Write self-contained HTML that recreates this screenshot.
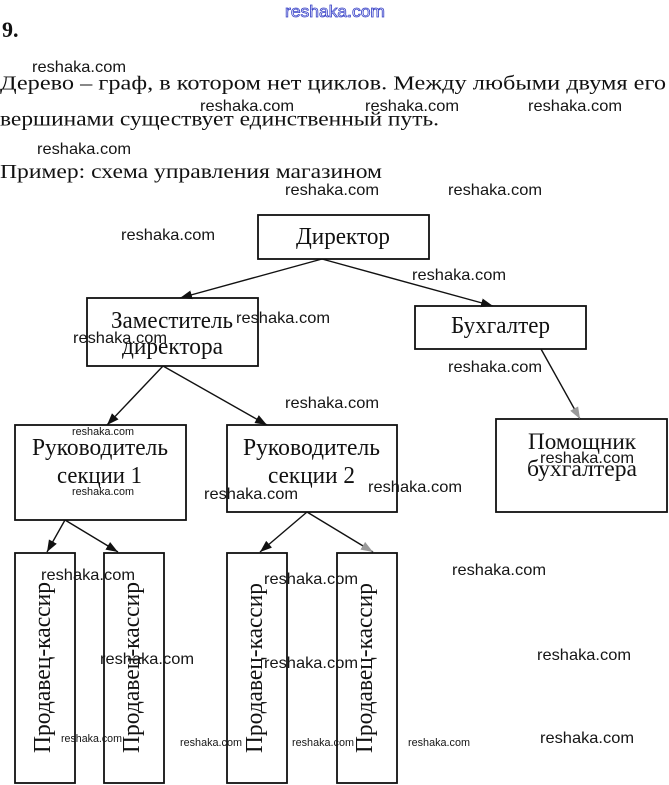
<!DOCTYPE html>
<html>
<head>
<meta charset="utf-8">
<style>
  html, body { margin: 0; padding: 0; background: #fff; }
  body { width: 669px; height: 785px; overflow: hidden; }
  svg { display: block; }
  .serif { font-family: "Liberation Serif", "Noto Serif CJK SC", serif; fill: #111; }
  .wm { font-family: "Liberation Sans", "DejaVu Sans", sans-serif; fill: #151515; }
</style>
</head>
<body>
<svg width="669" height="785" viewBox="0 0 669 785" xmlns="http://www.w3.org/2000/svg">
  <defs>
    <marker id="ah" markerUnits="userSpaceOnUse" markerWidth="13" markerHeight="10" refX="12" refY="5" orient="auto">
      <path d="M0,0.5 L12,5 L0,9.5 z" fill="#111"/>
    </marker>
    <marker id="ahg" markerUnits="userSpaceOnUse" markerWidth="13" markerHeight="10" refX="12" refY="5" orient="auto">
      <path d="M0,0.5 L12,5 L0,9.5 z" fill="#9a9a9a"/>
    </marker>
  </defs>

  <!-- top blue watermark -->
  <text x="285" y="17" font-size="16.5" textLength="100" lengthAdjust="spacingAndGlyphs"
        font-family="Liberation Sans, DejaVu Sans, sans-serif" fill="#ffffff" stroke="#3a44c8" stroke-width="0.8">reshaka.com</text>

  <!-- heading & paragraph -->
  <text class="serif" x="2" y="37" font-size="22" font-weight="bold">9.</text>
  <text class="serif" x="0" y="89.5" font-size="20.5" textLength="666" lengthAdjust="spacingAndGlyphs">Дерево – граф, в котором нет циклов. Между любыми двумя его</text>
  <text class="serif" x="0" y="125.5" font-size="20.5" textLength="439" lengthAdjust="spacingAndGlyphs">вершинами существует единственный путь.</text>
  <text class="serif" x="0" y="178" font-size="20.5" textLength="382" lengthAdjust="spacingAndGlyphs">Пример: схема управления магазином</text>

  <!-- boxes -->
  <g fill="none" stroke="#111" stroke-width="1.8">
    <rect x="258" y="215" width="171" height="44"/>
    <rect x="87" y="298" width="171" height="68"/>
    <rect x="415" y="306" width="171" height="43"/>
    <rect x="15" y="425" width="171" height="95"/>
    <rect x="227" y="425" width="170" height="87"/>
    <rect x="496" y="419" width="171" height="93"/>
    <rect x="15" y="553" width="60" height="230"/>
    <rect x="104" y="553" width="60" height="230"/>
    <rect x="227" y="553" width="60" height="230"/>
    <rect x="337" y="553" width="60" height="230"/>
  </g>

  <!-- arrows -->
  <g stroke="#111" stroke-width="1.4" fill="none">
    <line x1="322" y1="259" x2="180" y2="298" marker-end="url(#ah)"/>
    <line x1="322" y1="259" x2="493" y2="306" marker-end="url(#ah)"/>
    <line x1="163" y1="366" x2="107" y2="425" marker-end="url(#ah)"/>
    <line x1="163" y1="366" x2="267" y2="425" marker-end="url(#ah)"/>
    <line x1="541" y1="349" x2="580" y2="419" marker-end="url(#ahg)"/>
    <line x1="65" y1="520" x2="47" y2="552" marker-end="url(#ah)"/>
    <line x1="65" y1="520" x2="118" y2="552" marker-end="url(#ah)"/>
    <line x1="307" y1="512" x2="260" y2="552" marker-end="url(#ah)"/>
    <line x1="307" y1="512" x2="373" y2="552" marker-end="url(#ahg)"/>
  </g>

  <!-- box labels -->
  <text class="serif" x="296" y="244" font-size="24" textLength="94" lengthAdjust="spacingAndGlyphs">Директор</text>
  <text class="serif" x="111" y="328" font-size="24" textLength="122" lengthAdjust="spacingAndGlyphs">Заместитель</text>
  <text class="serif" x="122" y="354" font-size="24" textLength="101" lengthAdjust="spacingAndGlyphs">директора</text>
  <text class="serif" x="451" y="333" font-size="24" textLength="99" lengthAdjust="spacingAndGlyphs">Бухгалтер</text>
  <text class="serif" x="32" y="455" font-size="24" textLength="136" lengthAdjust="spacingAndGlyphs">Руководитель</text>
  <text class="serif" x="57" y="483" font-size="24" textLength="85" lengthAdjust="spacingAndGlyphs">секции 1</text>
  <text class="serif" x="243" y="455" font-size="24" textLength="137" lengthAdjust="spacingAndGlyphs">Руководитель</text>
  <text class="serif" x="268" y="483" font-size="24" textLength="87" lengthAdjust="spacingAndGlyphs">секции 2</text>
  <text class="serif" x="528" y="449" font-size="23" textLength="108" lengthAdjust="spacingAndGlyphs">Помощник</text>
  <text class="serif" x="527" y="476" font-size="23" textLength="110" lengthAdjust="spacingAndGlyphs">бухгалтера</text>

  <text class="serif" font-size="24" textLength="171" lengthAdjust="spacingAndGlyphs" transform="translate(50,753) rotate(-90)">Продавец-кассир</text>
  <text class="serif" font-size="24" textLength="171" lengthAdjust="spacingAndGlyphs" transform="translate(139,753) rotate(-90)">Продавец-кассир</text>
  <text class="serif" font-size="24" textLength="170" lengthAdjust="spacingAndGlyphs" transform="translate(262,753) rotate(-90)">Продавец-кассир</text>
  <text class="serif" font-size="24" textLength="170" lengthAdjust="spacingAndGlyphs" transform="translate(372,753) rotate(-90)">Продавец-кассир</text>

  <!-- watermarks (large) -->
  <g class="wm" font-size="16">
    <text x="32" y="72" textLength="94" lengthAdjust="spacingAndGlyphs">reshaka.com</text>
    <text x="200" y="111" textLength="94" lengthAdjust="spacingAndGlyphs">reshaka.com</text>
    <text x="365" y="111" textLength="94" lengthAdjust="spacingAndGlyphs">reshaka.com</text>
    <text x="528" y="111" textLength="94" lengthAdjust="spacingAndGlyphs">reshaka.com</text>
    <text x="37" y="154" textLength="94" lengthAdjust="spacingAndGlyphs">reshaka.com</text>
    <text x="285" y="195" textLength="94" lengthAdjust="spacingAndGlyphs">reshaka.com</text>
    <text x="448" y="195" textLength="94" lengthAdjust="spacingAndGlyphs">reshaka.com</text>
    <text x="121" y="240" textLength="94" lengthAdjust="spacingAndGlyphs">reshaka.com</text>
    <text x="412" y="280" textLength="94" lengthAdjust="spacingAndGlyphs">reshaka.com</text>
    <text x="236" y="323" textLength="94" lengthAdjust="spacingAndGlyphs">reshaka.com</text>
    <text x="73" y="343" textLength="94" lengthAdjust="spacingAndGlyphs">reshaka.com</text>
    <text x="448" y="372" textLength="94" lengthAdjust="spacingAndGlyphs">reshaka.com</text>
    <text x="285" y="408" textLength="94" lengthAdjust="spacingAndGlyphs">reshaka.com</text>
    <text x="540" y="463" textLength="94" lengthAdjust="spacingAndGlyphs">reshaka.com</text>
    <text x="204" y="499" textLength="94" lengthAdjust="spacingAndGlyphs">reshaka.com</text>
    <text x="368" y="492" textLength="94" lengthAdjust="spacingAndGlyphs">reshaka.com</text>
    <text x="41" y="580" textLength="94" lengthAdjust="spacingAndGlyphs">reshaka.com</text>
    <text x="264" y="584" textLength="94" lengthAdjust="spacingAndGlyphs">reshaka.com</text>
    <text x="452" y="575" textLength="94" lengthAdjust="spacingAndGlyphs">reshaka.com</text>
    <text x="100" y="664" textLength="94" lengthAdjust="spacingAndGlyphs">reshaka.com</text>
    <text x="264" y="668" textLength="94" lengthAdjust="spacingAndGlyphs">reshaka.com</text>
    <text x="537" y="660" textLength="94" lengthAdjust="spacingAndGlyphs">reshaka.com</text>
    <text x="540" y="743" textLength="94" lengthAdjust="spacingAndGlyphs">reshaka.com</text>
  </g>

  <!-- watermarks (small) -->
  <g class="wm" font-size="11">
    <text x="72" y="435" textLength="62" lengthAdjust="spacingAndGlyphs">reshaka.com</text>
    <text x="72" y="495" textLength="62" lengthAdjust="spacingAndGlyphs">reshaka.com</text>
    <text x="61" y="742" textLength="61" lengthAdjust="spacingAndGlyphs">reshaka.com</text>
    <text x="180" y="746" textLength="62" lengthAdjust="spacingAndGlyphs">reshaka.com</text>
    <text x="292" y="746" textLength="62" lengthAdjust="spacingAndGlyphs">reshaka.com</text>
    <text x="408" y="746" textLength="62" lengthAdjust="spacingAndGlyphs">reshaka.com</text>
  </g>
</svg>
</body>
</html>
